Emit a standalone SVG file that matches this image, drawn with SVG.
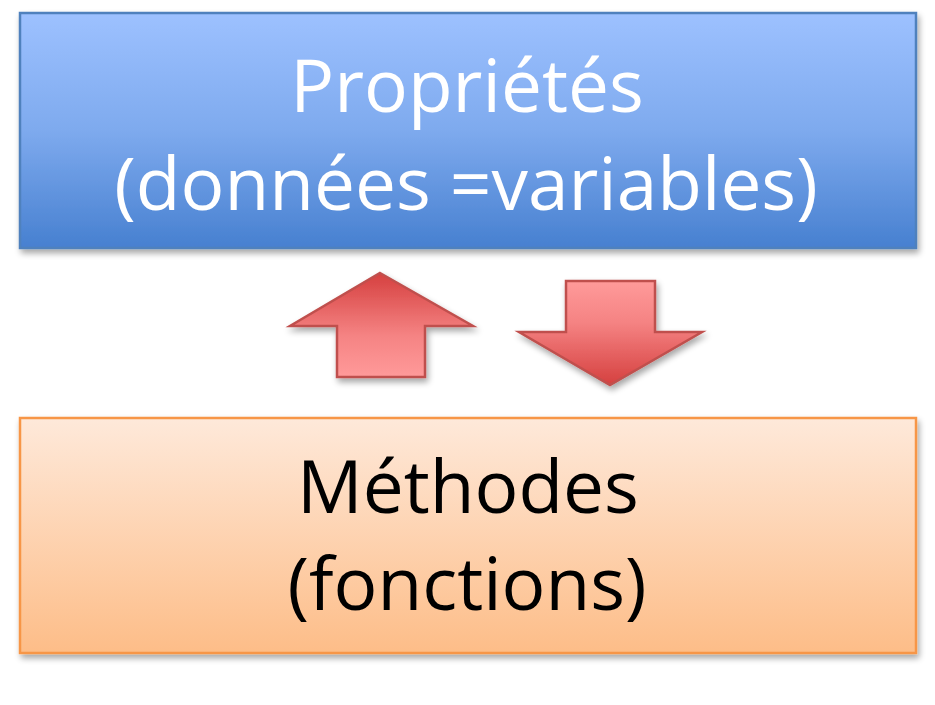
<svg xmlns="http://www.w3.org/2000/svg" width="935" height="705" viewBox="0 0 935 705">
<defs>
<linearGradient id="gBlue" x1="0" y1="0" x2="0" y2="1">
<stop offset="0" stop-color="#9dc1ff"/>
<stop offset="0.5" stop-color="#7eaaee"/>
<stop offset="1" stop-color="#4780d0"/>
</linearGradient>
<linearGradient id="gOrange" x1="0" y1="0" x2="0" y2="1">
<stop offset="0" stop-color="#fee9da"/>
<stop offset="1" stop-color="#fdbd88"/>
</linearGradient>
<linearGradient id="gUp" x1="0" y1="0" x2="0" y2="1">
<stop offset="0" stop-color="#d5403f"/>
<stop offset="0.6" stop-color="#f58383"/>
<stop offset="1" stop-color="#ff9a9a"/>
</linearGradient>
<linearGradient id="gDown" x1="0" y1="0" x2="0" y2="1">
<stop offset="0" stop-color="#ff9a9a"/>
<stop offset="0.4" stop-color="#f58383"/>
<stop offset="1" stop-color="#d5403f"/>
</linearGradient>
<filter id="sh" x="-10%" y="-10%" width="125%" height="130%">
<feGaussianBlur in="SourceAlpha" stdDeviation="3"/>
<feOffset dx="2" dy="4" result="b"/>
<feComponentTransfer><feFuncA type="linear" slope="0.35"/></feComponentTransfer>
<feMerge><feMergeNode/><feMergeNode in="SourceGraphic"/></feMerge>
</filter>
</defs>
<style>
.t{font-family:"Open Sans","Noto Sans",sans-serif;font-size:73px;text-anchor:middle}
.w{fill:#ffffff}
.k{fill:#000000}
.arr{stroke:#c0504d;stroke-width:2.5;stroke-linejoin:miter}
</style>
<rect width="935" height="705" fill="#ffffff"/>
<g id="proprietes">
<rect x="20" y="13" width="896" height="235" fill="url(#gBlue)" stroke="#4f81bd" stroke-width="2.5" filter="url(#sh)"/>
<text class="t w" x="467" y="112">Propriétés</text>
<text class="t w" x="466" y="210">(données =variables)</text>
</g>
<g id="methodes">
<rect x="20" y="418" width="896" height="235" fill="url(#gOrange)" stroke="#f79646" stroke-width="2.5" filter="url(#sh)"/>
<text class="t k" x="468" y="513">Méthodes</text>
<text class="t k" x="467" y="610">(fonctions)</text>
</g>
<g id="connectors">
<path class="arr" d="M380 273 L473 326 L425 326 L425 377 L337 377 L337 326 L290 326 Z" fill="url(#gUp)" filter="url(#sh)"/>
<path class="arr" d="M566 281 L655 281 L655 332 L702 332 L610 385 L519 332 L566 332 Z" fill="url(#gDown)" filter="url(#sh)"/>
</g>
</svg>
